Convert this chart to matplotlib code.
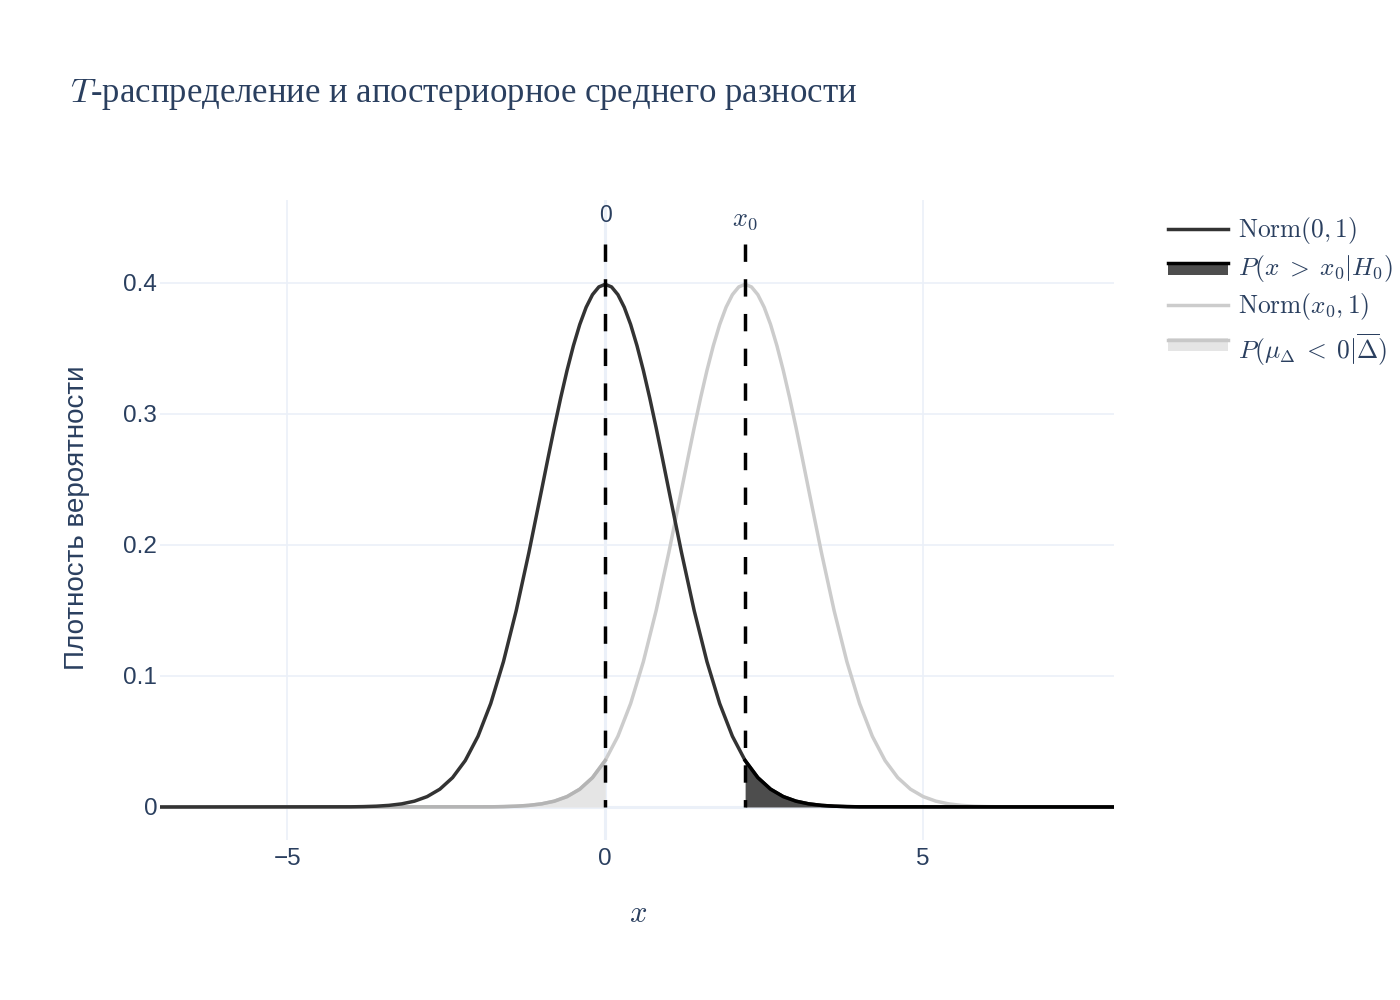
import matplotlib
matplotlib.use("Agg")
import matplotlib.pyplot as plt
from matplotlib.lines import Line2D
from matplotlib.patches import Rectangle

plt.rcParams['mathtext.fontset'] = 'cm'

# ---- data ----
x0 = 2.2
norm0_x = [-7.0, -4.0, -3.8, -3.6, -3.4, -3.2, -3.0, -2.8, -2.6, -2.4, -2.2, -2.0, -1.8, -1.6,
           -1.4, -1.2, -1.0, -0.9, -0.8, -0.7, -0.6, -0.5, -0.4, -0.3, -0.2, -0.1, 0.0,
           0.1, 0.2, 0.3, 0.4, 0.5, 0.6, 0.7, 0.8, 0.9, 1.0, 1.2, 1.4,
           1.6, 1.8, 2.0, 2.2, 2.4, 2.6, 2.8, 3.0, 3.2, 3.4, 3.6, 3.8, 4.0, 8.0]
norm0_y = [0.0, 0.000134, 0.000292, 0.000612, 0.001232, 0.002384, 0.004432, 0.007915, 0.013583,
           0.022395, 0.035475, 0.053991, 0.078950, 0.110921, 0.149727, 0.194186, 0.241971,
           0.266085, 0.289692, 0.312254, 0.333225, 0.352065, 0.368270, 0.381388, 0.391043,
           0.396953, 0.398942, 0.396953, 0.391043, 0.381388, 0.368270, 0.352065, 0.333225,
           0.312254, 0.289692, 0.266085, 0.241971, 0.194186, 0.149727, 0.110921, 0.078950,
           0.053991, 0.035475, 0.022395, 0.013583, 0.007915, 0.004432, 0.002384, 0.001232,
           0.000612, 0.000292, 0.000134, 0.0]
normx0_x = [-7.0, -1.8, -1.6, -1.4, -1.2, -1.0, -0.8, -0.6, -0.4, -0.2, 0.0, 0.2, 0.4, 0.6,
            0.8, 1.0, 1.2, 1.3, 1.4, 1.5, 1.6, 1.7, 1.8, 1.9, 2.0, 2.1, 2.2,
            2.3, 2.4, 2.5, 2.6, 2.7, 2.8, 2.9, 3.0, 3.1, 3.2, 3.4, 3.6, 3.8,
            4.0, 4.2, 4.4, 4.6, 4.8, 5.0, 5.2, 5.4, 5.6, 5.8, 6.0, 6.2, 8.0]
normx0_y = norm0_y

# tail under Norm(0,1) for x > x0
tail_x = [2.2, 2.4, 2.6, 2.8, 3.0, 3.2, 3.4, 3.6, 3.8, 4.0, 8.0]
tail_y = [0.035475, 0.022395, 0.013583, 0.007915, 0.004432, 0.002384, 0.001232, 0.000612,
          0.000292, 0.000134, 0.0]
# tail under Norm(x0,1) for x < 0
left_x = [-7.0, -1.8, -1.6, -1.4, -1.2, -1.0, -0.8, -0.6, -0.4, -0.2, 0.0]
left_y = [0.0, 0.000134, 0.000292, 0.000612, 0.001232, 0.002384, 0.004432, 0.007915,
          0.013583, 0.022395, 0.035475]

vlines_x = [0.0, x0]
vline_top = 0.43
vline_labels = ['0', r'$x_0$']
x_ticks = [-5, 0, 5]
x_ticklabels = ['\u22125', '0', '5']
y_ticks = [0, 0.1, 0.2, 0.3, 0.4]
y_ticklabels = ['0', '0.1', '0.2', '0.3', '0.4']
legend_labels = [r'$\mathrm{Norm}(0,1)$', r'$P(x\;>\;x_0|H_0)$', r'$\mathrm{Norm}(x_0,1)$',
                 r'$P(\mu_\Delta\;<\;0|\overline{\Delta})$']

# ---- styling ----
TXT = '#2a3f5f'
GRID = '#ebf0f8'
LW = 2.5
fig = plt.figure(figsize=(14, 10), dpi=100)
ax = fig.add_axes([160/1400, 1-840/1000, (1114-160)/1400, (840-200)/1000])
ax.set_xlim(-7, 8)
ax.set_ylim(-0.0252, 0.4633)
for s in ax.spines.values():
    s.set_visible(False)
ax.set_xticks(x_ticks)
ax.set_xticklabels(x_ticklabels)
ax.set_yticks(y_ticks)
ax.set_yticklabels(y_ticklabels)
ax.tick_params(axis='x', length=0, labelsize=17.5, labelcolor=TXT, pad=6)
ax.tick_params(axis='y', length=0, labelsize=17.5, labelcolor=TXT, pad=2)
for lab in ax.get_xticklabels() + ax.get_yticklabels():
    lab.set_fontfamily('Liberation Sans')
ax.grid(True, color=GRID, lw=1.2, zorder=0)
ax.axhline(0, color=GRID, lw=2.2, zorder=0.5)
ax.axvline(0, color=GRID, lw=2.2, zorder=0.5)
ax.set_axisbelow(True)

ax.fill_between(left_x, left_y, 0, color='#e5e5e5', lw=0, zorder=1)
ax.fill_between(tail_x, tail_y, 0, color='#4d4d4d', lw=0, zorder=1)
ax.plot(normx0_x, normx0_y, color='#cccccc', lw=LW, zorder=2, solid_joinstyle='round')
ax.plot(left_x, left_y, color='#b4b4b4', lw=LW, zorder=2.1)
ax.plot(norm0_x, norm0_y, color='#333333', lw=LW, zorder=3, solid_joinstyle='round')
ax.plot(tail_x, tail_y, color='#000000', lw=LW, zorder=3.1)

for xv, lab in zip(vlines_x, vline_labels):
    ax.plot([xv, xv], [vline_top, 0], color='black', lw=LW, dashes=(5, 5), zorder=4)
    if lab == '0':
        ax.text(xv, 0.4515, lab, ha='center', va='center', fontsize=16.5,
                color=TXT, family='Liberation Sans')
    else:
        ax.text(xv, 0.449, lab, ha='center', va='center', fontsize=19, color=TXT)

fig.text(77/1400, 1-518/1000, 'Плотность вероятности', rotation=90, fontsize=20,
         color=TXT, family='Liberation Sans', ha='center', va='center')
fig.text(638/1400, 1-913/1000, r'$x$', fontsize=22, color=TXT, ha='center', va='center')

fig.text(70/1400, 1-95/1000, r'$T$' + '-распределение и апостериорное среднего разности',
         fontsize=25, color=TXT, family='Liberation Serif', ha='left', va='center')

# ---- legend drawn by hand ----
lx0, lx1 = 1168/1400, 1228/1400
def fy(p):
    return 1 - p/1000
fig.add_artist(Line2D([lx0, lx1], [fy(229), fy(229)], color='#333333', lw=LW))
fig.add_artist(Rectangle((lx0, fy(275)), lx1-lx0, (275-262)/1000, color='#4d4d4d', lw=0))
fig.add_artist(Line2D([lx0, lx1], [fy(263), fy(263)], color='black', lw=LW))
fig.add_artist(Line2D([lx0, lx1], [fy(305), fy(305)], color='#cccccc', lw=LW))
fig.add_artist(Rectangle((lx0, fy(351)), lx1-lx0, (351-338)/1000, color='#e5e5e5', lw=0))
fig.add_artist(Line2D([lx0, lx1], [fy(340), fy(340)], color='#c8c8c8', lw=LW))
for yy, lab in zip([231, 269, 307, 350], legend_labels):
    fig.text(1238/1400, fy(yy), lab, fontsize=18.3, color=TXT, ha='left', va='center')

fig.savefig('out.png', dpi=100, facecolor='white')
